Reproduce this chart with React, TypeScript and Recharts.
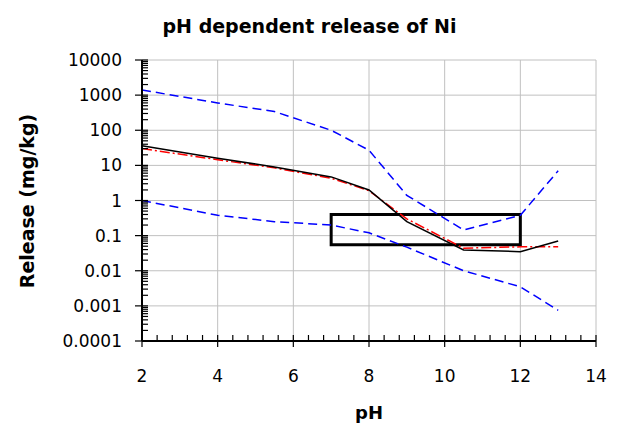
import React from 'react';
import {
  LineChart,
  Line,
  XAxis,
  YAxis,
  CartesianGrid,
  ReferenceArea,
} from 'recharts';

// pH values of the measured points
const PH = [2, 4, 5.5, 7, 8, 9, 10.5, 12, 13];
// release in mg/kg
const UPPER = [1400, 600, 340, 100, 27, 1.4, 0.145, 0.38, 7];
const LOWER = [1.0, 0.38, 0.25, 0.2, 0.12, 0.047, 0.01, 0.0035, 0.00075];
const MEASURED = [36, 16, 9, 4.7, 2.0, 0.25, 0.039, 0.035, 0.07];
const MODEL = [30, 14.5, 8.5, 4.3, 1.9, 0.3, 0.044, 0.048, 0.048];

const X_MAJOR = [2, 4, 6, 8, 10, 12, 14];
const X_TICKS = [
  2, 2.4, 2.8, 3.2, 3.6, 4, 4.4, 4.8, 5.2, 5.6, 6, 6.4, 6.8, 7.2, 7.6, 8,
  8.4, 8.8, 9.2, 9.6, 10, 10.4, 10.8, 11.2, 11.6, 12, 12.4, 12.8, 13.2, 13.6, 14,
];
const Y_MAJOR = [0.0001, 0.001, 0.01, 0.1, 1, 10, 100, 1000, 10000];
const Y_LABELS = ['0.0001', '0.001', '0.01', '0.1', '1', '10', '100', '1000', '10000'];
const MULTIPLES = [1, 2, 3, 4, 5, 6, 7, 8, 9];
const Y_TICKS = Y_MAJOR.slice(0, -1)
  .flatMap((d) => MULTIPLES.map((m) => Number((m * d).toPrecision(3))))
  .concat([10000]);

// box around the target range
const BOX = { x1: 7, x2: 12, y1: 0.055, y2: 0.4 };

const data = PH.map((ph, i) => ({
  ph,
  upper: UPPER[i],
  lower: LOWER[i],
  measured: MEASURED[i],
  model: MODEL[i],
}));

const FONT = '"DejaVu Sans", Verdana, sans-serif';

const isMajorX = (v: number) => X_MAJOR.some((m) => Math.abs(m - v) < 1e-6);

const XTick = (props: any) => {
  const { x, y, payload } = props;
  const major = isMajorX(payload.value);
  return (
    <g>
      <line x1={x} x2={x} y1={y - 6} y2={major ? y + 6 : y} stroke="#000" strokeWidth={1.2} />
      {major && (
        <text x={x} y={y + 41} textAnchor="middle" fontSize={17} fontFamily={FONT} fill="#000">
          {payload.value}
        </text>
      )}
    </g>
  );
};

const YTick = (props: any) => {
  const { x, y, payload } = props;
  const idx = Y_MAJOR.findIndex((m) => Math.abs(m - payload.value) / m < 1e-6);
  const major = idx >= 0;
  return (
    <g>
      <line x1={major ? x - 7 : x} x2={x + 6} y1={y} y2={y} stroke="#000" strokeWidth={1.2} />
      {major && (
        <text x={x - 20} y={y + 6} textAnchor="end" fontSize={17} fontFamily={FONT} fill="#000">
          {Y_LABELS[idx]}
        </text>
      )}
    </g>
  );
};

export default function App() {
  return (
    <div style={{ position: 'absolute', left: 0, top: 0, width: 619, height: 428, background: '#fff', fontFamily: FONT }}>
      <div style={{ position: 'absolute', left: 0, width: 619, top: 17, lineHeight: 1, textAlign: 'center', fontWeight: 'bold', fontSize: 19 }}>
        pH dependent release of Ni
      </div>
      <div
        style={{
          position: 'absolute',
          left: 27,
          top: 201,
          lineHeight: 1,
          transform: 'translate(-50%, -50%) rotate(-90deg)',
          whiteSpace: 'nowrap',
          fontWeight: 'bold',
          fontSize: 19,
        }}
      >
        Release (mg/kg)
      </div>
      <div style={{ position: 'absolute', left: 369, top: 413, lineHeight: 1, transform: 'translate(-50%, -50%)', fontWeight: 'bold', fontSize: 18 }}>
        pH
      </div>
      <LineChart width={619} height={428} data={data} margin={{ top: 60, right: 23, bottom: 47, left: 92 }}>
        <CartesianGrid
          stroke="#c0c0c0"
          horizontalValues={Y_MAJOR}
          verticalValues={X_MAJOR}
        />
        <XAxis
          dataKey="ph"
          type="number"
          domain={[2, 14]}
          ticks={X_TICKS}
          interval={0}
          tickSize={0}
          tickMargin={0}
          height={40}
          stroke="#000"
          strokeWidth={2}
          tick={<XTick />}
        />
        <YAxis
          type="number"
          scale="log"
          domain={[0.0001, 10000]}
          allowDataOverflow
          ticks={Y_TICKS}
          interval={0}
          tickSize={0}
          tickMargin={0}
          width={50}
          stroke="#000"
          strokeWidth={2}
          tick={<YTick />}
        />
        <Line type="linear" dataKey="upper" stroke="#0000ff" strokeWidth={1.5} strokeDasharray="9 5" dot={false} isAnimationActive={false} />
        <Line type="linear" dataKey="lower" stroke="#0000ff" strokeWidth={1.5} strokeDasharray="9 5" dot={false} isAnimationActive={false} />
        <Line type="linear" dataKey="model" stroke="#ff0000" strokeWidth={1.5} strokeDasharray="10 3 2 3" dot={false} isAnimationActive={false} />
        <Line type="linear" dataKey="measured" stroke="#000" strokeWidth={1.5} dot={false} isAnimationActive={false} />
        <ReferenceArea
          x1={BOX.x1}
          x2={BOX.x2}
          y1={BOX.y1}
          y2={BOX.y2}
          fill="none"
          fillOpacity={0}
          stroke="#000"
          strokeWidth={3}
          ifOverflow="visible"
        />
      </LineChart>
    </div>
  );
}
